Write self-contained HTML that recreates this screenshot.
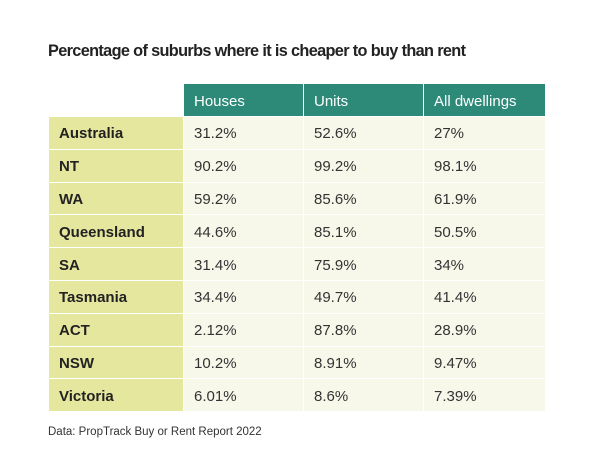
<!DOCTYPE html>
<html><head><style>
body{margin:0;width:600px;height:476px;background:#fff;font-family:"Liberation Sans",sans-serif;position:relative;overflow:hidden}
.t{position:absolute;left:48px;top:42px;font-size:16.3px;font-weight:bold;color:#222;letter-spacing:-0.65px}
.f{position:absolute;left:48px;top:426px;font-size:11.5px;color:#333}
table{position:absolute;left:48px;top:83px;border-collapse:collapse}
td{height:32.8px;padding:2px 0 0 10px;font-size:15px;color:#333;box-sizing:border-box;border:1px solid #fff}
td.l{width:135px;background:#e6e79f;font-weight:bold;color:#222;padding-left:10px}
td.v{background:#f7f8ea;width:120px}
tr.h td{background:#2e8a78;color:#fff;height:33px}
tr.h td.e{background:#fff}
</style></head><body>
<div class="t">Percentage of suburbs where it is cheaper to buy than rent</div>
<table>
<tr class="h"><td class="e" style="width:135px"></td><td style="width:120px">Houses</td><td style="width:119px">Units</td><td style="width:122px">All dwellings</td></tr>
<tr><td class="l">Australia</td><td class="v">31.2%</td><td class="v">52.6%</td><td class="v">27%</td></tr>
<tr><td class="l">NT</td><td class="v">90.2%</td><td class="v">99.2%</td><td class="v">98.1%</td></tr>
<tr><td class="l">WA</td><td class="v">59.2%</td><td class="v">85.6%</td><td class="v">61.9%</td></tr>
<tr><td class="l">Queensland</td><td class="v">44.6%</td><td class="v">85.1%</td><td class="v">50.5%</td></tr>
<tr><td class="l">SA</td><td class="v">31.4%</td><td class="v">75.9%</td><td class="v">34%</td></tr>
<tr><td class="l">Tasmania</td><td class="v">34.4%</td><td class="v">49.7%</td><td class="v">41.4%</td></tr>
<tr><td class="l">ACT</td><td class="v">2.12%</td><td class="v">87.8%</td><td class="v">28.9%</td></tr>
<tr><td class="l">NSW</td><td class="v">10.2%</td><td class="v">8.91%</td><td class="v">9.47%</td></tr>
<tr><td class="l">Victoria</td><td class="v">6.01%</td><td class="v">8.6%</td><td class="v">7.39%</td></tr>
</table>
<div class="f">Data: PropTrack Buy or Rent Report 2022</div>
</body></html>
